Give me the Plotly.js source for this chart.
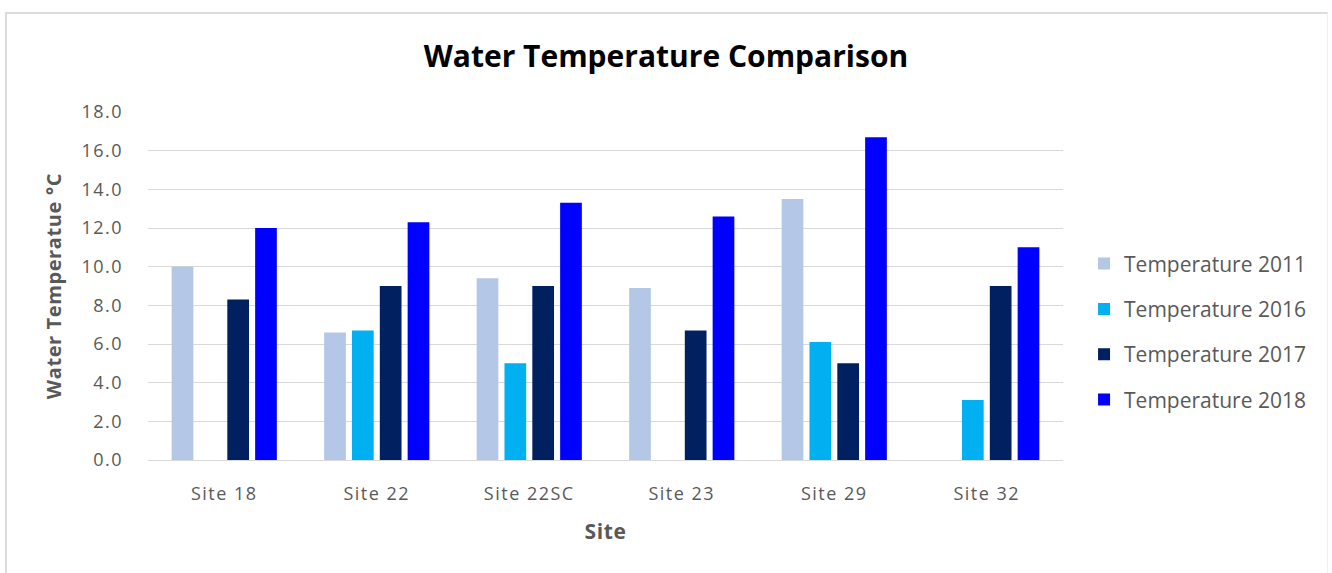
<!DOCTYPE html>
<html>
<head>
<meta charset="utf-8">
<script src="https://cdn.plot.ly/plotly-3.0.1.min.js"></script>
<style>
  html, body { margin: 0; padding: 0; background: #ffffff; }
  #wrap { position: relative; width: 1332px; height: 573px; overflow: hidden; }
  #chart { position: absolute; left: 0; top: 0; width: 1332px; height: 573px; }
  #chart .xtick text, #chart .ytick text { letter-spacing: 1.5px; }
  #chart .g-xtitle text, #chart .g-ytitle text { letter-spacing: 0.6px; }
  #frame { position: absolute; left: 5px; top: 12px; width: 1320px; height: 580px;
           border-left: 2px solid #dcdcdc; border-top: 2px solid #dcdcdc; border-right: 1px solid #f0f0f0;
           pointer-events: none; }
</style>
</head>
<body>
<div id="wrap">
  <div id="chart"></div>
  <div id="frame"></div>
</div>
<script>
// Sampling sites along the x axis
const sites = ['Site 18', 'Site 22', 'Site 22SC', 'Site 23', 'Site 29', 'Site 32'];

// Water temperature (°C) per site and year; null = no reading that year
const temp2011 = [10.0, 6.6, 9.4, 8.9, 13.5, null];
const temp2016 = [null, 6.7, 5.0, null, 6.1, 3.1];
const temp2017 = [8.3, 9.0, 9.0, 6.7, 5.0, 9.0];
const temp2018 = [12.0, 12.3, 13.3, 12.6, 16.7, 11.0];

const seriesNames = ['Temperature 2011', 'Temperature 2016', 'Temperature 2017', 'Temperature 2018'];
const seriesColors = ['#B4C7E7', '#00B0F0', '#002060', '#0000FF'];
const seriesValues = [temp2011, temp2016, temp2017, temp2018];

const FONT = 'Open Sans, Liberation Sans, sans-serif';
const GREY = '#595959';

const traces = seriesValues.map((vals, i) => ({
  type: 'bar',
  name: seriesNames[i],
  x: sites,
  y: vals,
  marker: { color: seriesColors[i], line: { width: 0 } },
  legendgroup: 'g' + i,
  hoverinfo: 'x+y+name'
}));

const layout = {
  width: 1332,
  height: 573,
  paper_bgcolor: '#ffffff',
  plot_bgcolor: '#ffffff',
  margin: { l: 148, r: 269, t: 112, b: 113, autoexpand: false },
  barmode: 'group',
  bargap: 0.27,
  bargroupgap: 0.22,
  title: {
    text: '<b>Water Temperature Comparison</b>',
    font: { family: FONT, size: 30, color: '#000000' },
    x: 0.5, xref: 'container', xanchor: 'center',
    y: 57, yref: 'container', yanchor: 'middle'
  },
  xaxis: {
    type: 'category',
    showgrid: false,
    showline: true,
    linecolor: '#D9D9D9',
    linewidth: 1,
    ticks: '',
    ticklabelstandoff: 17,
    tickfont: { family: FONT, size: 18, color: GREY },
    title: {
      text: '<b>Site</b>',
      font: { family: FONT, size: 21, color: GREY },
      standoff: 20
    },
    automargin: false
  },
  yaxis: {
    range: [0, 18],
    dtick: 2,
    tick0: 0,
    tickformat: '.1f',
    showgrid: true,
    gridcolor: '#D9D9D9',
    gridwidth: 1,
    zeroline: false,
    showline: false,
    ticks: '',
    ticklabelstandoff: 24,
    tickfont: { family: FONT, size: 18, color: GREY },
    title: {
      text: '<b>Water Temperatue °C</b>',
      font: { family: FONT, size: 20, color: GREY },
      standoff: 20
    },
    automargin: false
  },
  showlegend: true,
  legend: {
    x: 1.023, xanchor: 'left',
    y: 0.368, yanchor: 'middle',
    traceorder: 'grouped',
    tracegroupgap: 15,
    font: { family: FONT, size: 21, color: GREY },
    bgcolor: 'rgba(0,0,0,0)',
    itemwidth: 30
  }
};

Plotly.newPlot('chart', traces, layout, { displayModeBar: false, staticPlot: true });
</script>
</body>
</html>
